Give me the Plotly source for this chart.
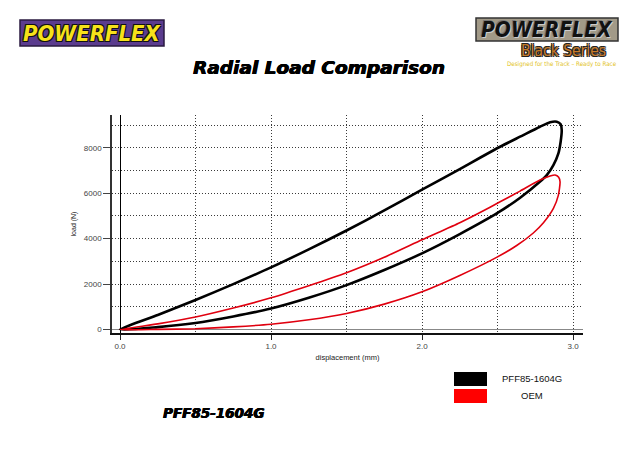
import plotly.graph_objects as go

# ---------------- data ----------------
series_names = ["PFF85-1604G", "OEM"]
series_colors = ["#000000", "#e0000f"]

pff_disp = [0, 0.25, 0.5, 0.75, 1.0, 1.25, 1.5, 1.75, 2.0, 2.25, 2.5, 2.65, 2.78, 2.826, 2.87,
            2.903, 2.918, 2.925, 2.918, 2.892, 2.848, 2.781, 2.649, 2.517, 2.384, 2.25, 2.0,
            1.75, 1.5, 1.25, 1.0, 0.75, 0.5, 0.25, 0]
pff_load = [0, 110, 290, 580, 926, 1400, 1956, 2620, 3353, 4200, 5130, 5800, 6502, 6797, 7238,
            7753, 8264, 8780, 9030, 9145, 9120, 8925, 8485, 8044, 7560, 7060, 6160,
            5240, 4360, 3530, 2735, 2000, 1300, 640, 0]

oem_disp = [0, 0.25, 0.5, 0.75, 1.0, 1.25, 1.5, 1.75, 2.0, 2.25, 2.5, 2.627, 2.737, 2.804, 2.87,
            2.903, 2.914, 2.905, 2.881, 2.848, 2.781, 2.649, 2.517, 2.384, 2.25, 2.0, 1.75,
            1.5, 1.25, 1.0, 0.75, 0.5, 0.25, 0]
oem_load = [0, 10, 40, 120, 235, 430, 706, 1120, 1662, 2380, 3198, 3700, 4250, 4700, 5330,
            5916, 6502, 6700, 6800, 6753, 6577, 6093, 5621, 5150, 4700, 3950, 3180,
            2500, 1930, 1397, 950, 555, 250, 0]

x_tickvals = [0, 1, 2, 3]
x_ticktext = ["0.0", "1.0", "2.0", "3.0"]
y_tickvals = [0, 2000, 4000, 6000, 8000]
y_ticktext = ["0", "2000", "4000", "6000", "8000"]

title_text = "Radial Load Comparison"
part_text = "PFF85-1604G"
x_title = "displacement (mm)"
y_title = "load (N)"

# ---------------- layout helpers (pixel -> paper) ----------------
W, H = 640, 452
L, R, T, B = 112, 583, 115, 333


def px(x):
    return (x - L) / (R - L)


def py(y):
    return (B - y) / (B - T)


fig = go.Figure()
fig.add_trace(go.Scatter(x=pff_disp, y=pff_load, mode="lines", name=series_names[0],
                         line=dict(color=series_colors[0], width=2.6, shape="spline", smoothing=0.6)))
fig.add_trace(go.Scatter(x=oem_disp, y=oem_load, mode="lines", name=series_names[1],
                         line=dict(color=series_colors[1], width=1.6, shape="spline", smoothing=0.6)))

tickfont = dict(family="Liberation Sans", size=8, color="#444")
GRID = "#3a3a3a"
DASH = "1px,2px"

fig.update_layout(
    width=W, height=H,
    margin=dict(l=L, r=W - R, t=T, b=H - B, pad=0),
    paper_bgcolor="white", plot_bgcolor="white",
    showlegend=False,
    xaxis=dict(range=[-0.053, 3.066], tickvals=x_tickvals, ticktext=x_ticktext,
               ticks="outside", ticklen=5, tickcolor="#222", tickwidth=1,
               showline=True, linecolor="#111", linewidth=1.6,
               showgrid=True, gridcolor=GRID, griddash=DASH, gridwidth=1,
               minor=dict(dtick=0.5, tick0=0, showgrid=True, gridcolor=GRID, griddash=DASH,
                          gridwidth=1, ticks=""),
               zeroline=True, zerolinecolor="#000", zerolinewidth=1.4,
               tickfont=tickfont,
               title=dict(text=x_title, font=dict(family="Liberation Sans", size=7.5, color="#222"),
                          standoff=4)),
    yaxis=dict(range=[-150, 9440], tickvals=y_tickvals, ticktext=y_ticktext,
               ticks="outside", ticklen=7, tickcolor="#444", tickwidth=1,
               showline=True, linecolor="#333", linewidth=1.6,
               showgrid=True, gridcolor=GRID, griddash=DASH, gridwidth=1,
               minor=dict(dtick=1000, tick0=0, showgrid=True, gridcolor=GRID, griddash=DASH,
                          gridwidth=1, ticks=""),
               zeroline=True, zerolinecolor="#888", zerolinewidth=1,
               tickfont=tickfont,
               title=dict(text=y_title, font=dict(family="Liberation Sans", size=7, color="#222"),
                          standoff=6)),
)

shapes = []
annotations = []
HEAVY = "0.6px 0 0 #000, -0.3px 0 0 #000, 0 0.4px 0 #000"

# Title
annotations.append(dict(text=title_text, x=px(319), y=py(67), xref="paper", yref="paper",
                        showarrow=False, xanchor="center", yanchor="middle",
                        font=dict(family="DejaVu Sans", size=18.5, color="#000",
                                  weight="bold", style="italic", shadow=HEAVY)))

# Part number
annotations.append(dict(text=part_text, x=px(213), y=py(413), xref="paper", yref="paper",
                        showarrow=False, xanchor="center", yanchor="middle",
                        font=dict(family="DejaVu Sans", size=13.5, color="#000",
                                  weight="bold", style="italic", shadow=HEAVY)))

# Legend (drawn)
leg_y = [379, 396]
for name, col, yy in zip(series_names, ["#000000", "#ff0000"], leg_y):
    shapes.append(dict(type="rect", xref="paper", yref="paper",
                       x0=px(454), x1=px(487), y0=py(yy - 7), y1=py(yy + 7),
                       fillcolor=col, line=dict(width=0)))
    annotations.append(dict(text=name, x=px(532), y=py(yy - 1), xref="paper", yref="paper",
                            showarrow=False, xanchor="center", yanchor="middle",
                            font=dict(family="Liberation Sans", size=9.5, color="#111")))

# Left logo
shapes.append(dict(type="rect", xref="paper", yref="paper",
                   x0=px(20), x1=px(164), y0=py(20), y1=py(46),
                   fillcolor="#5b3c8e", line=dict(color="#2a1a40", width=1.5)))
annotations.append(dict(text="POWERFLEX", x=px(92), y=py(33), xref="paper", yref="paper",
                        showarrow=False, xanchor="center", yanchor="middle",
                        font=dict(family="DejaVu Sans Condensed", size=22, color="#f6e21a",
                                  weight="bold", style="italic",
                                  shadow="1px 1px 0 #111, -1px -1px 0 #111, 1px -1px 0 #111, -1px 1px 0 #111")))

# Right logo
shapes.append(dict(type="rect", xref="paper", yref="paper",
                   x0=px(476), x1=px(618), y0=py(18), y1=py(41),
                   fillcolor="#a29a88", line=dict(color="#333", width=1.5)))
annotations.append(dict(text="POWERFLEX", x=px(547), y=py(29.5), xref="paper", yref="paper",
                        showarrow=False, xanchor="center", yanchor="middle",
                        font=dict(family="DejaVu Sans Condensed", size=21, color="#111",
                                  weight="bold", style="italic",
                                  shadow="1px 1px 0 #ccc, -1px -1px 0 #777")))
annotations.append(dict(text="Black Series", x=px(563), y=py(50.5), xref="paper", yref="paper",
                        showarrow=False, xanchor="center", yanchor="middle",
                        font=dict(family="DejaVu Sans Condensed", size=15.5, color="#c87a28",
                                  shadow="1px 1px 0 #222, -1px -1px 0 #222, 1px -1px 0 #222, -1px 1px 0 #222")))
annotations.append(dict(text="Designed for the Track \u2013 Ready to Race", x=px(562), y=py(64),
                        xref="paper", yref="paper",
                        showarrow=False, xanchor="center", yanchor="middle",
                        font=dict(family="DejaVu Sans Condensed", size=6.2, color="#e2c21c")))

fig.update_layout(shapes=shapes, annotations=annotations)
fig.write_html("out.html", config={"displayModeBar": False},
               post_script="document.body.style.margin='0';document.body.style.overflow='hidden';")
